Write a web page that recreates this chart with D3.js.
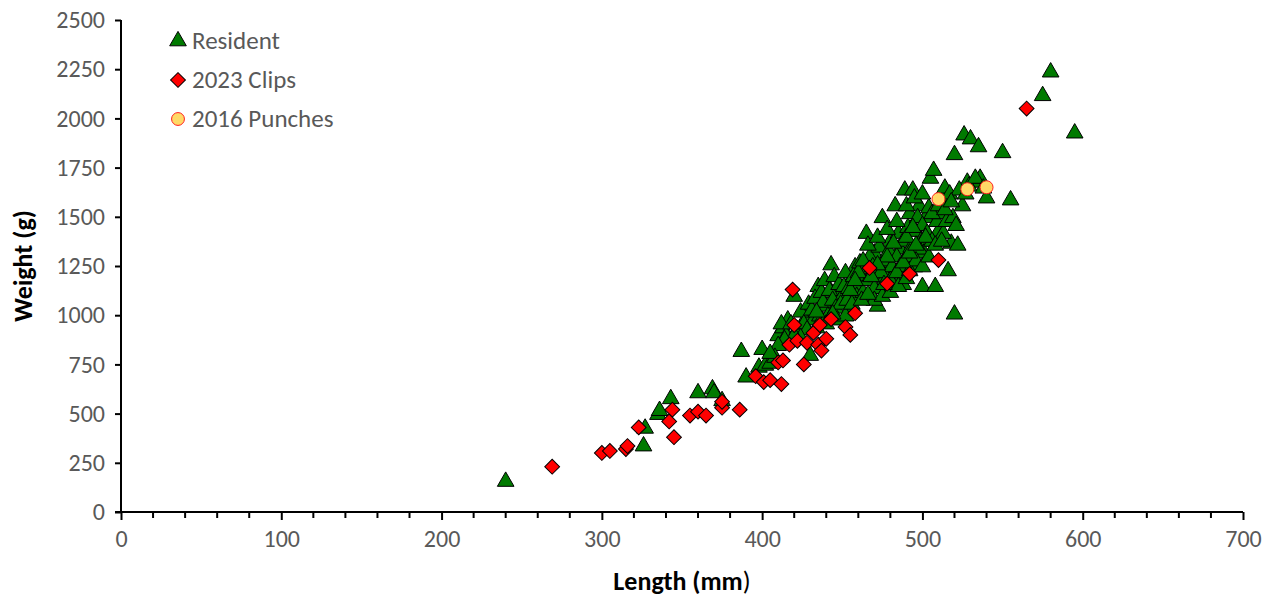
<!DOCTYPE html>
<html>
<head>
<meta charset="utf-8">
<script src="https://cdn.jsdelivr.net/npm/d3@7"></script>
<style>
body { margin: 0; background: #fff; }
text { font-family: Calibri, Carlito, "Open Sans", sans-serif; }
</style>
</head>
<body>
<div id="chart-area"></div>
<script>
var width = 1275, height = 601;

// [length mm, weight g]
var resident = [
 [240,160],[326,340],[327,430],[335,500],[336,520],[343,580],[360,610],[369,630],[370,610],[375,570],
 [387,820],[390,690],[398,740],[400,830],[402,750],[405,760],[410,900],[413,940],[416,980],[418,870],
 [420,1100],[425,950],[428,1000],[430,800],[432,980],[435,1150],[436,1000],[440,1050],[443,1260],[447,1120],
 [450,1100],[455,1180],[458,1250],[460,1150],[462,1200],[465,1420],[470,1320],[472,1050],[475,1500],[478,1230],
 [480,1380],[483,1560],[486,1340],[489,1640],[492,1520],[494,1640],[496,1430],[498,1560],[500,1150],[502,1500],
 [505,1700],[507,1740],[508,1150],[510,1430],[512,1600],[514,1650],[516,1230],[518,1370],[520,1820],[520,1010],
 [522,1360],[525,1560],[526,1920],[528,1680],[530,1900],[532,1680],[535,1860],[536,1700],[540,1600],[550,1830],
 [555,1590],[575,2120],[580,2240],[595,1930],
 [412,960],[415,900],[422,930],[424,1020],[426,960],[429,1060],[431,1030],[433,1090],[434,940],[437,1120],
 [438,1070],[439,1180],[441,1000],[442,1130],[444,1080],[445,1200],[446,1040],[448,1160],[449,1060],[451,1150],
 [452,1220],[453,1080],[454,1140],[456,1030],[457,1200],[459,1100],[461,1270],[463,1120],[464,1240],[466,1180],
 [467,1300],[468,1100],[469,1250],[471,1200],[473,1350],[474,1150],[476,1280],[477,1200],[479,1330],[481,1250],
 [482,1150],[484,1300],[485,1420],[487,1200],[488,1380],[490,1300],[491,1450],[493,1350],[495,1250],[497,1500],
 [499,1380],[500,1460],[501,1320],[503,1420],[504,1550],[506,1380],[509,1480],[511,1520],[513,1420],[515,1480],
 [517,1620],[519,1500],[521,1460],[523,1640],[527,1620],[529,1660],[533,1700],[538,1650],
 [460,1220],[463,1280],[470,1140],[474,1220],[478,1300],[482,1370],[486,1250],[490,1400],[494,1450],[498,1340],
 [502,1400],[506,1520],[510,1560],[514,1540],[518,1580],[480,1180],[484,1220],[488,1160],[492,1230],[496,1280],
 [470,1080],[475,1100],[480,1120],[485,1150],[490,1190],[466,1360],[472,1400],[478,1440],[484,1480],[490,1560],
 [495,1600],[500,1620],[447,980],[452,1000],[456,1060],[462,1080],[466,1110],[440,960],[444,1010],[434,1020],
 [428,930],[424,890],[420,900],[418,960],[414,880],[410,850],[408,790],[405,810],[455,1130],[458,1180],
 [468,1200],[472,1260],[476,1160],[488,1270],[492,1320],[496,1360],[500,1250],[504,1300],[508,1360],[512,1380]
];
var clips = [
 [269,230],[300,300],[305,310],[315,320],[316,335],[323,430],[342,460],[344,520],[345,380],[355,490],
 [360,510],[365,490],[375,530],[375,560],[386,520],[396,690],[401,660],[405,670],[410,760],[412,650],
 [413,770],[417,850],[419,1130],[420,950],[422,870],[426,750],[428,860],[432,910],[435,850],[436,950],
 [437,820],[440,880],[443,980],[452,940],[455,900],[458,1010],[467,1240],[478,1160],[492,1210],[510,1280],
 [565,2050]
];
var punches = [[510,1590],[528,1640],[540,1650]];

var xTicks = [0,100,200,300,400,500,600,700];
var yTicks = [0,250,500,750,1000,1250,1500,1750,2000,2250,2500];
var legendLabels = ["Resident","2023 Clips","2016 Punches"];

var svg = d3.select("#chart-area").append("svg")
	.attr("width", width).attr("height", height);

var x = d3.scaleLinear().domain([0,700]).range([121,1243]);
var y = d3.scaleLinear().domain([0,2500]).range([512,20]);

// axes
var xAxis = d3.axisBottom(x).tickValues(xTicks).tickSize(8).tickPadding(10).tickFormat(d3.format("d"));
var gx = svg.append("g").attr("transform","translate(0,512)").call(xAxis);
gx.selectAll(".minor").data(d3.range(20,700,20).filter(function(v){return v%100!=0;}))
	.enter().append("line").attr("class","minor")
	.attr("x1",function(d){return x(d);}).attr("x2",function(d){return x(d);})
	.attr("y1",0).attr("y2",6);
var yAxis = d3.axisLeft(y).tickValues(yTicks).tickSize(6).tickPadding(10).tickFormat(d3.format("d"));
var gy = svg.append("g").attr("transform","translate(121,0)").call(yAxis);
[gx,gy].forEach(function(g){
	g.selectAll("path,line").attr("stroke","#000").attr("stroke-width",2);
	g.selectAll("text").attr("fill","#595959").style("font-size","24px");
});
gx.select(".domain").attr("d","M115,0H1243");
gy.select(".domain").attr("d","M0,512V20");

var xt = svg.append("text").attr("x",682).attr("y",590).attr("text-anchor","middle")
	.style("font-size","26px").style("font-weight","bold");
xt.append("tspan").text("Length (mm");
xt.append("tspan").style("font-weight","normal").text(")");
svg.append("text").attr("transform","translate(32,266) rotate(-90)").attr("text-anchor","middle")
	.style("font-size","26px").style("font-weight","bold").text("Weight (g)");

var tri = d3.symbol().type(d3.symbolTriangle).size(120);
var dia = d3.symbol().type(d3.symbolSquare).size(110);

svg.append("g").selectAll("path").data(resident).enter().append("path")
	.attr("d", tri)
	.attr("transform", function(d){ return "translate(" + x(d[0]) + "," + (y(d[1])+1) + ")"; })
	.attr("fill","#007a00").attr("stroke","#000").attr("stroke-width",1);
svg.append("g").selectAll("path").data(clips).enter().append("path")
	.attr("d", dia)
	.attr("transform", function(d){ return "translate(" + x(d[0]) + "," + y(d[1]) + ") rotate(45)"; })
	.attr("fill","#ff0000").attr("stroke","#000").attr("stroke-width",1);
svg.append("g").selectAll("circle").data(punches).enter().append("circle")
	.attr("cx", function(d){ return x(d[0]); }).attr("cy", function(d){ return y(d[1]); })
	.attr("r",6.5).attr("fill","#ffd966").attr("stroke","#ff2020").attr("stroke-width",1);

// legend
var lg = svg.append("g").selectAll("g").data(legendLabels).enter().append("g")
	.attr("transform", function(d,i){ return "translate(178," + (41 + i*39) + ")"; });
lg.append("path").attr("d", function(d,i){ return i==0 ? tri() : (i==1 ? dia() : d3.symbol().type(d3.symbolCircle).size(130)()); })
	.attr("transform", function(d,i){ return i==1 ? "rotate(45)" : ""; })
	.attr("fill", function(d,i){ return ["#007a00","#ff0000","#ffd966"][i]; })
	.attr("stroke", function(d,i){ return i==2 ? "#ff2020" : "#000"; });
lg.append("text").attr("x",14).attr("y",8).attr("fill","#595959").style("font-size","25px")
	.text(function(d){ return d; });
</script>
</body>
</html>
